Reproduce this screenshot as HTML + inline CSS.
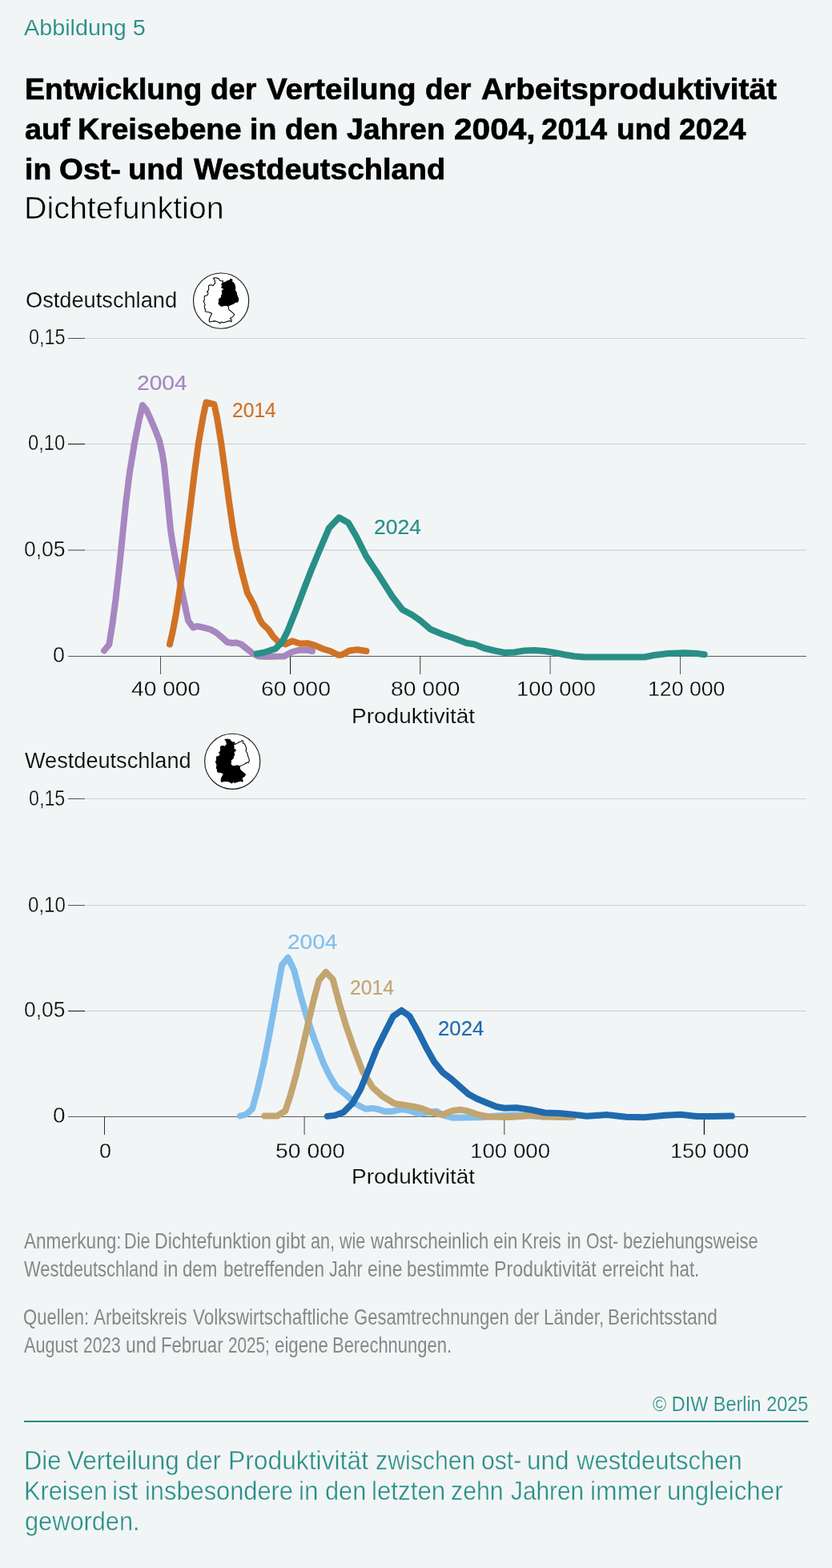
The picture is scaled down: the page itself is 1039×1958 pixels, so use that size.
<!DOCTYPE html>
<html lang="de"><head><meta charset="utf-8"><title>Abbildung 5</title>
<style>
html,body{margin:0;padding:0;background:#f2f5f6;}
body{width:1039px;height:1958px;position:relative;overflow:hidden;font-family:"Liberation Sans", sans-serif;}
.t{position:absolute;white-space:pre;line-height:1;transform-origin:0 0;font-family:"Liberation Sans", sans-serif;}
svg{position:absolute;left:0;top:0;}
</style></head><body>
<svg width="1039" height="1958" viewBox="0 0 1039 1958">
<rect x="106" y="422" width="901" height="1" fill="#cfd2d3"/>
<rect x="85" y="422" width="21" height="1" fill="#4d4d4d"/>
<rect x="106" y="554" width="901" height="1" fill="#c9cbcc"/>
<rect x="85" y="554" width="21" height="1" fill="#151515"/>
<rect x="106" y="686" width="901" height="2" fill="#dcdfe0"/>
<rect x="85" y="686" width="21" height="2" fill="#999"/>
<rect x="85" y="819" width="922" height="1" fill="#5a5a5a"/>
<rect x="200" y="819" width="1" height="23" fill="#555"/>
<rect x="362" y="819" width="1" height="23" fill="#1a1a1a"/>
<rect x="524.25" y="819" width="1" height="23" fill="#3c3c3c"/>
<rect x="686.6" y="819" width="1" height="23" fill="#555"/>
<rect x="849" y="819" width="1" height="23" fill="#555"/>
<rect x="106" y="997" width="901" height="1" fill="#d0d3d4"/>
<rect x="85" y="997" width="21" height="1" fill="#555"/>
<rect x="106" y="1130" width="901" height="1" fill="#d0d3d4"/>
<rect x="85" y="1130" width="21" height="1" fill="#555"/>
<rect x="106" y="1262" width="901" height="1" fill="#c9cbcc"/>
<rect x="85" y="1262" width="21" height="1" fill="#151515"/>
<rect x="85" y="1394" width="922" height="1" fill="#5a5a5a"/>
<rect x="130" y="1394" width="1" height="23" fill="#333"/>
<rect x="379.6" y="1394" width="1" height="23" fill="#444"/>
<rect x="629.3" y="1394" width="1" height="23" fill="#444"/>
<rect x="878.8" y="1394" width="1.2" height="23" fill="#111"/>
<path d="M130.0,812.5 L136.2,805.0 L140.3,780.0 L144.6,747.5 L148.8,710.0 L151.4,685.0 L152.9,670.0 L157.2,627.5 L161.9,590.0 L168.1,552.5 L173.6,525.0 L178.0,506.0 L182.6,511.6 L187.9,522.9 L193.8,536.8 L199.2,550.8 L202.6,566.2 L204.9,580.1 L206.7,597.4 L209.0,620.0 L212.8,660.0 L215.8,680.0 L219.9,702.5 L225.0,727.5 L230.2,752.5 L235.0,775.0 L241.2,783.8 L246.2,782.0 L255.0,783.8 L262.5,785.8 L270.0,790.0 L277.5,796.2 L283.8,802.0 L290.0,803.0 L295.0,802.5 L301.2,804.5 L307.5,809.5 L315.0,815.5 L322.5,819.5 L332.5,820.0 L355.0,819.5 L363.8,814.5 L372.5,812.0 L383.8,811.5 L390.0,813.0" fill="none" stroke="#a687c0" stroke-width="8" stroke-linecap="round" stroke-linejoin="round"/>
<path d="M212.0,804.5 L215.4,790.0 L219.7,767.5 L223.6,742.5 L227.4,715.0 L231.3,685.0 L234.5,660.0 L238.4,627.5 L242.9,590.0 L248.0,552.5 L253.7,520.0 L257.5,502.5 L267.5,505.0 L271.2,522.5 L276.1,552.5 L281.2,590.0 L286.2,627.5 L290.9,660.0 L295.4,685.0 L302.2,715.0 L308.8,740.0 L317.5,756.2 L323.8,772.5 L327.5,778.8 L335.0,785.8 L341.2,795.0 L348.8,802.5 L356.2,804.5 L365.0,800.5 L375.0,803.8 L383.8,803.2 L393.8,806.2 L403.8,810.5 L412.5,813.0 L422.5,818.0 L427.5,817.5 L436.2,812.5 L446.2,811.2 L457.5,813.0" fill="none" stroke="#d07225" stroke-width="8" stroke-linecap="round" stroke-linejoin="round"/>
<path d="M320.7,816.5 L331.3,814.3 L344.0,810.1 L352.4,801.6 L358.8,788.9 L364.8,774.1 L370.9,758.5 L379.4,736.0 L388.3,713.0 L398.1,689.3 L410.8,659.6 L423.4,646.3 L435.0,652.8 L445.0,670.0 L457.5,695.0 L472.5,717.5 L490.0,745.0 L502.5,761.2 L515.0,768.0 L525.0,775.0 L537.5,785.8 L552.5,792.0 L570.0,798.0 L582.5,803.0 L592.5,804.5 L605.0,809.5 L617.5,812.5 L630.0,815.0 L642.5,814.5 L655.0,812.5 L667.5,812.0 L680.0,813.0 L692.5,815.0 L705.0,817.5 L717.5,819.5 L730.0,820.5 L805.0,820.5 L817.5,818.0 L834.8,816.0 L854.8,815.3 L869.7,816.0 L879.7,817.3" fill="none" stroke="#288f87" stroke-width="8" stroke-linecap="round" stroke-linejoin="round"/>
<path d="M300.0,1393.5 L307.5,1391.5 L315.0,1384.7 L321.1,1362.8 L329.3,1327.7 L336.2,1292.6 L342.6,1257.6 L347.6,1230.0 L352.1,1205.0 L359.6,1195.8 L367.1,1211.3 L375.2,1242.6 L384.3,1273.9 L392.5,1297.6 L403.9,1327.7 L412.6,1345.2 L420.2,1357.7 L432.7,1367.7 L445.2,1379.0 L456.4,1384.7 L465.2,1383.9 L472.7,1385.2 L480.2,1387.7 L490.0,1387.7 L502.5,1385.2 L512.5,1387.0 L522.5,1390.7 L532.5,1389.5 L545.0,1387.7 L555.0,1393.2 L565.0,1395.7 L600.0,1395.2 L620.0,1393.6 L645.0,1392.6 L665.0,1393.6 L680.0,1394.5" fill="none" stroke="#82beec" stroke-width="8" stroke-linecap="round" stroke-linejoin="round"/>
<path d="M330.3,1393.5 L346.3,1393.5 L356.3,1387.2 L362.7,1367.7 L369.7,1342.7 L377.4,1310.2 L385.4,1275.1 L392.0,1247.6 L398.4,1223.8 L406.9,1213.8 L415.7,1223.0 L423.6,1252.6 L431.9,1280.1 L442.3,1310.2 L452.7,1337.7 L465.2,1357.7 L477.7,1369.0 L492.5,1378.0 L505.0,1380.0 L517.5,1382.0 L527.5,1384.5 L540.0,1389.5 L552.5,1392.0 L565.0,1387.0 L575.0,1385.7 L585.0,1387.7 L597.5,1392.0 L610.0,1394.5 L635.0,1395.0 L655.0,1393.7 L665.0,1392.7 L680.0,1394.5 L700.0,1395.0 L716.0,1394.8" fill="none" stroke="#c3a570" stroke-width="8" stroke-linecap="round" stroke-linejoin="round"/>
<path d="M408.9,1393.9 L417.7,1392.9 L428.9,1388.9 L440.2,1377.7 L450.2,1360.2 L459.4,1337.7 L470.2,1310.2 L480.2,1290.1 L491.0,1269.0 L501.4,1261.7 L511.3,1268.8 L522.5,1288.8 L532.5,1308.8 L542.5,1326.3 L552.5,1338.8 L563.8,1347.5 L575.0,1357.5 L585.0,1366.3 L595.0,1371.8 L607.5,1377.0 L620.0,1382.0 L630.0,1383.7 L645.0,1383.2 L662.5,1385.7 L680.0,1389.5 L700.0,1390.2 L713.0,1391.4 L732.6,1393.7 L758.7,1392.1 L781.6,1394.7 L804.4,1395.3 L830.5,1392.7 L850.0,1391.7 L869.7,1394.0 L889.2,1394.0 L913.8,1393.6" fill="none" stroke="#1f6aae" stroke-width="8" stroke-linecap="round" stroke-linejoin="round"/>
<circle cx="276.1" cy="375.6" r="34.6" fill="#fff" stroke="#1a1a1a" stroke-width="1.15"/><polygon points="278.10,353.01 278.49,350.70 276.95,351.08 274.25,349.93 272.71,347.62 268.86,346.85 266.17,347.23 267.71,349.16 268.48,351.47 268.48,354.16 266.94,355.32 266.17,356.85 264.63,355.93 261.94,355.70 260.40,356.85 260.78,359.93 260.01,363.01 258.47,364.17 260.01,365.71 259.24,368.40 257.32,369.17 255.39,369.56 255.16,372.25 255.39,374.56 254.24,375.72 255.16,378.41 256.16,380.72 255.16,382.26 255.39,384.57 256.55,386.11 256.16,388.03 257.70,389.57 260.40,389.80 262.71,390.57 264.48,391.50 263.09,394.58 261.55,397.66 261.17,400.73 261.55,401.89 264.24,401.50 266.55,400.89 269.63,401.12 272.71,402.27 275.02,403.81 276.56,401.89 278.87,403.04 281.95,401.89 285.03,401.12 287.34,400.58 288.88,401.89 289.26,400.73 288.49,398.43 287.34,397.66 289.65,396.12 291.57,394.58 292.73,392.65 291.19,391.11 288.88,389.19 286.57,387.26 285.41,385.72 285.41,383.03 284.26,381.87 282.72,381.10 279.64,381.49 276.56,382.26 274.64,380.72 273.10,379.18 273.87,376.10 273.48,373.79 275.79,372.25 276.95,370.71 276.56,369.17 278.10,367.63 277.72,365.32 277.33,363.01 279.64,361.86 279.26,359.93 276.95,359.16 277.72,356.85 276.95,355.32" fill="#fff" stroke="#000" stroke-width="1.05" stroke-linejoin="round"/><polygon points="278.10,353.39 281.18,352.62 284.26,350.70 286.95,349.93 288.11,348.39 290.03,349.54 289.26,351.85 291.57,353.01 293.11,356.08 293.88,359.93 293.11,361.86 295.04,364.94 295.81,368.40 297.35,372.25 297.73,374.56 296.58,377.26 294.65,376.87 292.73,378.41 288.88,380.33 285.80,381.49 284.26,381.87 282.72,381.10 279.64,381.49 276.56,382.26 274.64,380.72 273.10,379.18 273.87,376.10 273.48,373.79 275.79,372.25 276.95,370.71 276.56,369.17 278.10,367.63 277.72,365.32 277.33,363.01 279.64,361.86 279.26,359.93 276.95,359.16 277.72,356.85 276.95,355.32" fill="#000" stroke="#000" stroke-width="1.05" stroke-linejoin="round"/>
<circle cx="290.2" cy="950.8" r="34.6" fill="#fff" stroke="#1a1a1a" stroke-width="1.15"/><polygon points="292.43,929.37 295.40,928.63 298.37,926.77 300.97,926.02 302.09,924.54 303.95,925.65 303.20,927.88 305.43,929.00 306.92,931.97 307.66,935.68 306.92,937.54 308.77,940.51 309.52,943.85 311.00,947.57 311.37,949.80 310.26,952.40 308.40,952.03 306.55,953.51 302.83,955.37 299.86,956.48 298.37,956.85 296.89,956.11 293.92,956.48 290.95,957.23 289.09,955.74 287.60,954.25 288.35,951.28 287.97,949.05 290.20,947.57 291.32,946.08 290.95,944.60 292.43,943.11 292.06,940.88 291.69,938.65 293.92,937.54 293.55,935.68 291.32,934.94 292.06,932.71 291.32,931.23" fill="#fff" stroke="#000" stroke-width="1.05" stroke-linejoin="round"/><polygon points="292.43,929.00 292.80,926.77 291.32,927.14 288.72,926.02 287.23,923.80 283.52,923.05 280.92,923.42 282.40,925.28 283.15,927.51 283.15,930.11 281.66,931.23 280.92,932.71 279.43,931.82 276.83,931.60 275.35,932.71 275.72,935.68 274.97,938.65 273.49,939.77 274.97,941.25 274.23,943.85 272.37,944.60 270.52,944.97 270.29,947.57 270.52,949.80 269.40,950.91 270.29,953.51 271.26,955.74 270.29,957.23 270.52,959.45 271.63,960.94 271.26,962.80 272.75,964.28 275.35,964.51 277.57,965.25 279.28,966.14 277.95,969.11 276.46,972.08 276.09,975.06 276.46,976.17 279.06,975.80 281.29,975.20 284.26,975.43 287.23,976.54 289.46,978.03 290.95,976.17 293.17,977.28 296.15,976.17 299.12,975.43 301.35,974.91 302.83,976.17 303.20,975.06 302.46,972.83 301.35,972.08 303.57,970.60 305.43,969.11 306.55,967.25 305.06,965.77 302.83,963.91 300.60,962.05 299.49,960.57 299.49,957.97 298.37,956.85 296.89,956.11 293.92,956.48 290.95,957.23 289.09,955.74 287.60,954.25 288.35,951.28 287.97,949.05 290.20,947.57 291.32,946.08 290.95,944.60 292.43,943.11 292.06,940.88 291.69,938.65 293.92,937.54 293.55,935.68 291.32,934.94 292.06,932.71 291.32,931.23" fill="#000" stroke="#000" stroke-width="1.05" stroke-linejoin="round"/>
<rect x="30" y="1774" width="979.5" height="2" fill="#1e8a82"/>
</svg>
<div class="t" style="left:29.95px;top:21.71px;font-size:26.75px;font-weight:400;color:#288f87;-webkit-text-stroke:0.1px #f2f5f6;transform:scaleX(1.0745)">Abbildung 5</div>
<div class="l"><span class="t" style="left:30.82px;top:92.53px;font-size:37.0px;font-weight:700;color:#000;-webkit-text-stroke:0.7px #000;transform:scaleX(1.0150)">Entwicklung </span><span class="t" style="left:263.15px;top:92.53px;font-size:37.0px;font-weight:700;color:#000;-webkit-text-stroke:0.7px #000;transform:scaleX(0.9965)">der </span><span class="t" style="left:332.95px;top:92.53px;font-size:37.0px;font-weight:700;color:#000;-webkit-text-stroke:0.7px #000;transform:scaleX(1.0435)">Verteilung </span><span class="t" style="left:530.65px;top:92.53px;font-size:37.0px;font-weight:700;color:#000;-webkit-text-stroke:0.7px #000;transform:scaleX(0.9982)">der </span><span class="t" style="left:600.70px;top:92.53px;font-size:37.0px;font-weight:700;color:#000;-webkit-text-stroke:0.7px #000;transform:scaleX(1.0496)">Arbeitsproduktivität</span></div>
<div class="l"><span class="t" style="left:30.58px;top:142.53px;font-size:37.0px;font-weight:700;color:#000;-webkit-text-stroke:0.7px #000;transform:scaleX(1.0191)">auf </span><span class="t" style="left:97.10px;top:142.53px;font-size:37.0px;font-weight:700;color:#000;-webkit-text-stroke:0.7px #000;transform:scaleX(1.0260)">Kreisebene </span><span class="t" style="left:312.12px;top:142.53px;font-size:37.0px;font-weight:700;color:#000;-webkit-text-stroke:0.7px #000;transform:scaleX(1.0138)">in </span><span class="t" style="left:355.74px;top:142.53px;font-size:37.0px;font-weight:700;color:#000;-webkit-text-stroke:0.7px #000;transform:scaleX(1.0095)">den </span><span class="t" style="left:433.34px;top:142.53px;font-size:37.0px;font-weight:700;color:#000;-webkit-text-stroke:0.7px #000;transform:scaleX(1.0118)">Jahren </span><span class="t" style="left:567.35px;top:142.53px;font-size:37.0px;font-weight:700;color:#000;-webkit-text-stroke:0.7px #000;transform:scaleX(1.0966)">2004, </span><span class="t" style="left:675.75px;top:142.53px;font-size:37.0px;font-weight:700;color:#000;-webkit-text-stroke:0.7px #000;transform:scaleX(0.9963)">2014 </span><span class="t" style="left:769.64px;top:142.53px;font-size:37.0px;font-weight:700;color:#000;-webkit-text-stroke:0.7px #000;transform:scaleX(1.0062)">und </span><span class="t" style="left:848.24px;top:142.53px;font-size:37.0px;font-weight:700;color:#000;-webkit-text-stroke:0.7px #000;transform:scaleX(1.0134)">2024</span></div>
<div class="l"><span class="t" style="left:30.83px;top:192.53px;font-size:37.0px;font-weight:700;color:#000;-webkit-text-stroke:0.7px #000;transform:scaleX(1.0103)">in </span><span class="t" style="left:73.81px;top:192.53px;font-size:37.0px;font-weight:700;color:#000;-webkit-text-stroke:0.7px #000;transform:scaleX(1.0389)">Ost- </span><span class="t" style="left:160.30px;top:192.53px;font-size:37.0px;font-weight:700;color:#000;-webkit-text-stroke:0.7px #000;transform:scaleX(1.0234)">und </span><span class="t" style="left:241.65px;top:192.53px;font-size:37.0px;font-weight:700;color:#000;-webkit-text-stroke:0.7px #000;transform:scaleX(1.0280)">Westdeutschland</span></div>
<div class="t" style="left:30.17px;top:241.37px;font-size:38.75px;font-weight:400;color:#000;-webkit-text-stroke:0.55px #f2f5f6;transform:scaleX(1.0168)">Dichtefunktion</div>
<div class="t" style="left:31.64px;top:360.98px;font-size:27.75px;font-weight:400;color:#0a0a0a;-webkit-text-stroke:0.15px #f2f5f6;transform:scaleX(0.9804)">Ostdeutschland</div>
<div class="t" style="left:35.50px;top:407.27px;font-size:27.5px;font-weight:400;color:#0a0a0a;-webkit-text-stroke:0.3px #f2f5f6;transform:scaleX(0.8519)">0,15</div>
<div class="t" style="left:34.73px;top:539.27px;font-size:27.5px;font-weight:400;color:#0a0a0a;-webkit-text-stroke:0.3px #f2f5f6;transform:scaleX(0.8663)">0,10</div>
<div class="t" style="left:30.38px;top:671.78px;font-size:27.25px;font-weight:400;color:#0a0a0a;-webkit-text-stroke:0.3px #f2f5f6;transform:scaleX(0.9725)">0,05</div>
<div class="t" style="left:66.38px;top:803.87px;font-size:27.5px;font-weight:400;color:#0a0a0a;-webkit-text-stroke:0.3px #f2f5f6;transform:scaleX(0.9714)">0</div>
<div class="l"><span class="t" style="left:163.60px;top:847.04px;font-size:26.0px;font-weight:400;color:#0a0a0a;-webkit-text-stroke:0.3px #f2f5f6;transform:scaleX(1.0829)">40 000 </span><span class="t" style="left:325.76px;top:847.04px;font-size:26.0px;font-weight:400;color:#0a0a0a;-webkit-text-stroke:0.3px #f2f5f6;transform:scaleX(1.0936)">60 000 </span><span class="t" style="left:488.26px;top:847.04px;font-size:26.0px;font-weight:400;color:#0a0a0a;-webkit-text-stroke:0.3px #f2f5f6;transform:scaleX(1.0872)">80 000 </span><span class="t" style="left:645.24px;top:847.04px;font-size:26.0px;font-weight:400;color:#0a0a0a;-webkit-text-stroke:0.3px #f2f5f6;transform:scaleX(1.0527)">100 000 </span><span class="t" style="left:808.80px;top:847.04px;font-size:26.0px;font-weight:400;color:#0a0a0a;-webkit-text-stroke:0.3px #f2f5f6;transform:scaleX(1.0253)">120 000</span></div>
<div class="t" style="left:439.31px;top:880.84px;font-size:26.5px;font-weight:400;color:#0a0a0a;-webkit-text-stroke:0.15px #f2f5f6;transform:scaleX(1.0566)">Produktivität</div>
<div class="t" style="left:171.21px;top:466.30px;font-size:25.75px;font-weight:400;color:#a687c0;-webkit-text-stroke:0.2px #a687c0;transform:scaleX(1.0911)">2004</div>
<div class="t" style="left:289.64px;top:500.10px;font-size:25.75px;font-weight:400;color:#d07225;-webkit-text-stroke:0.2px #d07225;transform:scaleX(0.9562)">2014</div>
<div class="t" style="left:467.47px;top:645.90px;font-size:25.75px;font-weight:400;color:#288f87;-webkit-text-stroke:0.2px #288f87;transform:scaleX(1.0304)">2024</div>
<div class="t" style="left:31.32px;top:936.08px;font-size:27.75px;font-weight:400;color:#0a0a0a;-webkit-text-stroke:0.15px #f2f5f6;transform:scaleX(0.9775)">Westdeutschland</div>
<div class="t" style="left:36.30px;top:983.18px;font-size:27.25px;font-weight:400;color:#0a0a0a;-webkit-text-stroke:0.3px #f2f5f6;transform:scaleX(0.8529)">0,15</div>
<div class="t" style="left:34.72px;top:1115.68px;font-size:27.25px;font-weight:400;color:#0a0a0a;-webkit-text-stroke:0.3px #f2f5f6;transform:scaleX(0.8833)">0,10</div>
<div class="t" style="left:30.17px;top:1247.89px;font-size:27.0px;font-weight:400;color:#0a0a0a;-webkit-text-stroke:0.3px #f2f5f6;transform:scaleX(0.9765)">0,05</div>
<div class="t" style="left:66.30px;top:1379.91px;font-size:26.75px;font-weight:400;color:#0a0a0a;-webkit-text-stroke:0.3px #f2f5f6;transform:scaleX(1.0462)">0</div>
<div class="l"><span class="t" style="left:123.80px;top:1424.55px;font-size:25.75px;font-weight:400;color:#0a0a0a;-webkit-text-stroke:0.3px #f2f5f6;transform:scaleX(1.0462)">0 </span><span class="t" style="left:343.75px;top:1424.55px;font-size:25.75px;font-weight:400;color:#0a0a0a;-webkit-text-stroke:0.3px #f2f5f6;transform:scaleX(1.1000)">50 000 </span><span class="t" style="left:587.20px;top:1424.55px;font-size:25.75px;font-weight:400;color:#0a0a0a;-webkit-text-stroke:0.3px #f2f5f6;transform:scaleX(1.0756)">100 000 </span><span class="t" style="left:837.34px;top:1424.55px;font-size:25.75px;font-weight:400;color:#0a0a0a;-webkit-text-stroke:0.3px #f2f5f6;transform:scaleX(1.0556)">150 000</span></div>
<div class="t" style="left:439.31px;top:1455.84px;font-size:26.5px;font-weight:400;color:#0a0a0a;-webkit-text-stroke:0.15px #f2f5f6;transform:scaleX(1.0566)">Produktivität</div>
<div class="t" style="left:359.03px;top:1162.88px;font-size:26.25px;font-weight:400;color:#82beec;-webkit-text-stroke:0.2px #82beec;transform:scaleX(1.0702)">2004</div>
<div class="t" style="left:436.64px;top:1221.10px;font-size:25.75px;font-weight:400;color:#c3a570;-webkit-text-stroke:0.2px #c3a570;transform:scaleX(0.9607)">2014</div>
<div class="t" style="left:547.08px;top:1272.33px;font-size:25.25px;font-weight:400;color:#1f6aae;-webkit-text-stroke:0.2px #1f6aae;transform:scaleX(1.0200)">2024</div>
<div class="l"><span class="t" style="left:30.00px;top:1536.02px;font-size:27.5px;font-weight:400;color:#888888;transform:scaleX(0.8192)">Anmerkung: </span><span class="t" style="left:154.82px;top:1536.02px;font-size:27.5px;font-weight:400;color:#888888;transform:scaleX(0.7895)">Die </span><span class="t" style="left:192.73px;top:1536.02px;font-size:27.5px;font-weight:400;color:#888888;transform:scaleX(0.8374)">Dichtefunktion </span><span class="t" style="left:343.75px;top:1536.02px;font-size:27.5px;font-weight:400;color:#888888;transform:scaleX(0.8477)">gibt </span><span class="t" style="left:388.11px;top:1536.02px;font-size:27.5px;font-weight:400;color:#888888;transform:scaleX(0.7857)">an, </span><span class="t" style="left:423.90px;top:1536.02px;font-size:27.5px;font-weight:400;color:#888888;transform:scaleX(0.7825)">wie </span><span class="t" style="left:462.70px;top:1536.02px;font-size:27.5px;font-weight:400;color:#888888;transform:scaleX(0.8168)">wahrscheinlich </span><span class="t" style="left:615.57px;top:1536.02px;font-size:27.5px;font-weight:400;color:#888888;transform:scaleX(0.8294)">ein </span><span class="t" style="left:651.12px;top:1536.02px;font-size:27.5px;font-weight:400;color:#888888;transform:scaleX(0.7917)">Kreis </span><span class="t" style="left:708.17px;top:1536.02px;font-size:27.5px;font-weight:400;color:#888888;transform:scaleX(0.8263)">in </span><span class="t" style="left:731.83px;top:1536.02px;font-size:27.5px;font-weight:400;color:#888888;transform:scaleX(0.7740)">Ost- </span><span class="t" style="left:778.00px;top:1536.02px;font-size:27.5px;font-weight:400;color:#888888;transform:scaleX(0.8000)">beziehungsweise</span></div>
<div class="l"><span class="t" style="left:30.00px;top:1571.02px;font-size:27.5px;font-weight:400;color:#888888;transform:scaleX(0.7962)">Westdeutschland </span><span class="t" style="left:204.34px;top:1571.02px;font-size:27.5px;font-weight:400;color:#888888;transform:scaleX(0.8579)">in </span><span class="t" style="left:228.19px;top:1571.02px;font-size:27.5px;font-weight:400;color:#888888;transform:scaleX(0.8078)">dem </span><span class="t" style="left:278.68px;top:1571.02px;font-size:27.5px;font-weight:400;color:#888888;transform:scaleX(0.8184)">betreffenden </span><span class="t" style="left:411.40px;top:1571.02px;font-size:27.5px;font-weight:400;color:#888888;transform:scaleX(0.7792)">Jahr </span><span class="t" style="left:458.86px;top:1571.02px;font-size:27.5px;font-weight:400;color:#888888;transform:scaleX(0.8360)">eine </span><span class="t" style="left:507.79px;top:1571.02px;font-size:27.5px;font-weight:400;color:#888888;transform:scaleX(0.8120)">bestimmte </span><span class="t" style="left:617.21px;top:1571.02px;font-size:27.5px;font-weight:400;color:#888888;transform:scaleX(0.8440)">Produktivität </span><span class="t" style="left:751.76px;top:1571.02px;font-size:27.5px;font-weight:400;color:#888888;transform:scaleX(0.8385)">erreicht </span><span class="t" style="left:835.59px;top:1571.02px;font-size:27.5px;font-weight:400;color:#888888;transform:scaleX(0.8140)">hat.</span></div>
<div class="l"><span class="t" style="left:29.20px;top:1631.02px;font-size:27.5px;font-weight:400;color:#888888;transform:scaleX(0.8010)">Quellen: </span><span class="t" style="left:117.10px;top:1631.02px;font-size:27.5px;font-weight:400;color:#888888;transform:scaleX(0.8119)">Arbeitskreis </span><span class="t" style="left:240.70px;top:1631.02px;font-size:27.5px;font-weight:400;color:#888888;transform:scaleX(0.8172)">Volkswirtschaftliche </span><span class="t" style="left:441.90px;top:1631.02px;font-size:27.5px;font-weight:400;color:#888888;transform:scaleX(0.8021)">Gesamtrechnungen </span><span class="t" style="left:641.82px;top:1631.02px;font-size:27.5px;font-weight:400;color:#888888;transform:scaleX(0.7846)">der </span><span class="t" style="left:679.06px;top:1631.02px;font-size:27.5px;font-weight:400;color:#888888;transform:scaleX(0.8205)">Länder, </span><span class="t" style="left:759.16px;top:1631.02px;font-size:27.5px;font-weight:400;color:#888888;transform:scaleX(0.8215)">Berichtsstand</span></div>
<div class="l"><span class="t" style="left:30.00px;top:1666.02px;font-size:27.5px;font-weight:400;color:#888888;transform:scaleX(0.7860)">August </span><span class="t" style="left:104.34px;top:1666.02px;font-size:27.5px;font-weight:400;color:#888888;transform:scaleX(0.7627)">2023 </span><span class="t" style="left:157.27px;top:1666.02px;font-size:27.5px;font-weight:400;color:#888888;transform:scaleX(0.8326)">und </span><span class="t" style="left:200.59px;top:1666.02px;font-size:27.5px;font-weight:400;color:#888888;transform:scaleX(0.8053)">Februar </span><span class="t" style="left:284.75px;top:1666.02px;font-size:27.5px;font-weight:400;color:#888888;transform:scaleX(0.7515)">2025; </span><span class="t" style="left:342.99px;top:1666.02px;font-size:27.5px;font-weight:400;color:#888888;transform:scaleX(0.8099)">eigene </span><span class="t" style="left:414.80px;top:1666.02px;font-size:27.5px;font-weight:400;color:#888888;transform:scaleX(0.7989)">Berechnungen.</span></div>
<div class="t" style="left:814.92px;top:1741.29px;font-size:25.5px;font-weight:400;color:#288f87;-webkit-text-stroke:0.15px #f2f5f6;transform:scaleX(0.9182)">© DIW Berlin 2025</div>
<div class="l"><span class="t" style="left:29.74px;top:1807.05px;font-size:33.25px;font-weight:400;color:#288f87;-webkit-text-stroke:0.4px #f2f5f6;transform:scaleX(0.9277)">Die </span><span class="t" style="left:84.40px;top:1807.05px;font-size:33.25px;font-weight:400;color:#288f87;-webkit-text-stroke:0.4px #f2f5f6;transform:scaleX(0.9452)">Verteilung </span><span class="t" style="left:232.09px;top:1807.05px;font-size:33.25px;font-weight:400;color:#288f87;-webkit-text-stroke:0.4px #f2f5f6;transform:scaleX(0.9106)">der </span><span class="t" style="left:284.89px;top:1807.05px;font-size:33.25px;font-weight:400;color:#288f87;-webkit-text-stroke:0.4px #f2f5f6;transform:scaleX(0.9564)">Produktivität </span><span class="t" style="left:468.59px;top:1807.05px;font-size:33.25px;font-weight:400;color:#288f87;-webkit-text-stroke:0.4px #f2f5f6;transform:scaleX(0.9104)">zwischen </span><span class="t" style="left:601.49px;top:1807.05px;font-size:33.25px;font-weight:400;color:#288f87;-webkit-text-stroke:0.4px #f2f5f6;transform:scaleX(0.9057)">ost- </span><span class="t" style="left:658.11px;top:1807.05px;font-size:33.25px;font-weight:400;color:#288f87;-webkit-text-stroke:0.4px #f2f5f6;transform:scaleX(0.9462)">und </span><span class="t" style="left:719.50px;top:1807.05px;font-size:33.25px;font-weight:400;color:#288f87;-webkit-text-stroke:0.4px #f2f5f6;transform:scaleX(0.9323)">westdeutschen</span></div>
<div class="l"><span class="t" style="left:29.76px;top:1845.05px;font-size:33.25px;font-weight:400;color:#288f87;-webkit-text-stroke:0.4px #f2f5f6;transform:scaleX(0.9220)">Kreisen </span><span class="t" style="left:140.46px;top:1845.05px;font-size:33.25px;font-weight:400;color:#288f87;-webkit-text-stroke:0.4px #f2f5f6;transform:scaleX(0.9677)">ist </span><span class="t" style="left:180.65px;top:1845.05px;font-size:33.25px;font-weight:400;color:#288f87;-webkit-text-stroke:0.4px #f2f5f6;transform:scaleX(0.9265)">insbesondere </span><span class="t" style="left:373.00px;top:1845.05px;font-size:33.25px;font-weight:400;color:#288f87;-webkit-text-stroke:0.4px #f2f5f6;transform:scaleX(0.9500)">in </span><span class="t" style="left:405.98px;top:1845.05px;font-size:33.25px;font-weight:400;color:#288f87;-webkit-text-stroke:0.4px #f2f5f6;transform:scaleX(0.9245)">den </span><span class="t" style="left:463.62px;top:1845.05px;font-size:33.25px;font-weight:400;color:#288f87;-webkit-text-stroke:0.4px #f2f5f6;transform:scaleX(0.9415)">letzten </span><span class="t" style="left:563.49px;top:1845.05px;font-size:33.25px;font-weight:400;color:#288f87;-webkit-text-stroke:0.4px #f2f5f6;transform:scaleX(0.9116)">zehn </span><span class="t" style="left:638.20px;top:1845.05px;font-size:33.25px;font-weight:400;color:#288f87;-webkit-text-stroke:0.4px #f2f5f6;transform:scaleX(0.8970)">Jahren </span><span class="t" style="left:736.88px;top:1845.05px;font-size:33.25px;font-weight:400;color:#288f87;-webkit-text-stroke:0.4px #f2f5f6;transform:scaleX(0.9611)">immer </span><span class="t" style="left:833.02px;top:1845.05px;font-size:33.25px;font-weight:400;color:#288f87;-webkit-text-stroke:0.4px #f2f5f6;transform:scaleX(0.9424)">ungleicher</span></div>
<div class="t" style="left:30.68px;top:1882.65px;font-size:33.25px;font-weight:400;color:#288f87;-webkit-text-stroke:0.4px #f2f5f6;transform:scaleX(0.9243)">geworden.</div>
</body></html>
